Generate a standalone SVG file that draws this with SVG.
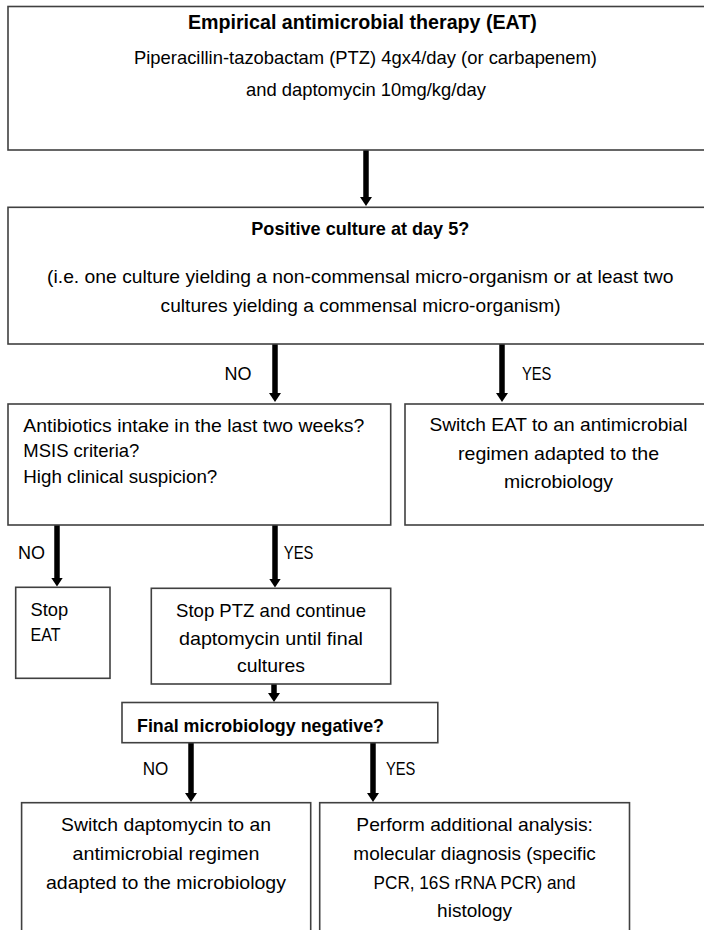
<svg xmlns="http://www.w3.org/2000/svg" width="704" height="930" viewBox="0 0 704 930">
<style>
.box{fill:#fff;stroke:#404040;stroke-width:1.6}
text{font-family:"Liberation Sans",Arial,sans-serif;font-size:18.5px;fill:#000}
.b{font-weight:bold}
.m{text-anchor:middle}
.arr{stroke:#000;stroke-width:5.5;fill:none;marker-end:url(#ah)}
</style>
<defs>
<marker id="ah" markerUnits="userSpaceOnUse" markerWidth="10" markerHeight="12" refX="2" refY="6" orient="auto" viewBox="0 0 10 12">
<path d="M0,0 L9,6 L0,12 Z" fill="#000"/>
</marker>
</defs>
<rect width="704" height="930" fill="#fff"/>
<g id="connectors">
<line class="arr" x1="366" y1="150" x2="366" y2="199"/>
<line class="arr" x1="275" y1="344" x2="275" y2="395"/>
<line class="arr" x1="502" y1="344" x2="502" y2="395"/>
<line class="arr" x1="57" y1="525" x2="57" y2="579.5"/>
<line class="arr" x1="275" y1="525" x2="275" y2="580.5"/>
<line class="arr" x1="274" y1="684" x2="274" y2="695"/>
<line class="arr" x1="191" y1="743" x2="191" y2="795"/>
<line class="arr" x1="373" y1="743" x2="373" y2="795"/>
<text x="224.5" y="380" textLength="27" lengthAdjust="spacingAndGlyphs">NO</text>
<text x="522" y="380" textLength="29.4" lengthAdjust="spacingAndGlyphs">YES</text>
<text x="18" y="559" textLength="27" lengthAdjust="spacingAndGlyphs">NO</text>
<text x="283.8" y="559" textLength="29.6" lengthAdjust="spacingAndGlyphs">YES</text>
<text x="142.8" y="775" textLength="25.6" lengthAdjust="spacingAndGlyphs">NO</text>
<text x="386" y="775" textLength="29.4" lengthAdjust="spacingAndGlyphs">YES</text>
</g>
<g id="eat">
<rect class="box" x="8" y="6.5" width="712" height="143.5"/>
<text class="b m" x="362.4" y="29" style="font-size:19.5px" textLength="349" lengthAdjust="spacingAndGlyphs">Empirical antimicrobial therapy (EAT)</text>
<text class="m" x="365.5" y="63.5" textLength="463" lengthAdjust="spacingAndGlyphs">Piperacillin-tazobactam (PTZ) 4gx4/day (or carbapenem)</text>
<text class="m" x="366" y="96" textLength="240" lengthAdjust="spacingAndGlyphs">and daptomycin 10mg/kg/day</text>
</g>
<g id="positive-culture">
<rect class="box" x="8" y="207.3" width="712" height="136.7"/>
<text class="b m" x="360.3" y="234.5" textLength="218" lengthAdjust="spacingAndGlyphs">Positive culture at day 5?</text>
<text class="m" x="360.3" y="283" textLength="626.5" lengthAdjust="spacingAndGlyphs">(i.e. one culture yielding a non-commensal micro-organism or at least two</text>
<text class="m" x="360.6" y="311.5" textLength="400" lengthAdjust="spacingAndGlyphs">cultures yielding a commensal micro-organism)</text>
</g>
<g id="antibiotics-intake">
<rect class="box" x="8" y="404" width="382.7" height="121"/>
<text x="23.3" y="432" textLength="341" lengthAdjust="spacingAndGlyphs">Antibiotics intake in the last two weeks?</text>
<text x="23.3" y="457" textLength="116" lengthAdjust="spacingAndGlyphs">MSIS criteria?</text>
<text x="23.3" y="483" textLength="194" lengthAdjust="spacingAndGlyphs">High clinical suspicion?</text>
</g>
<g id="switch-eat">
<rect class="box" x="405" y="404" width="315" height="121"/>
<text class="m" x="558.5" y="430.5" textLength="258" lengthAdjust="spacingAndGlyphs">Switch EAT to an antimicrobial</text>
<text class="m" x="558.5" y="460" textLength="201" lengthAdjust="spacingAndGlyphs">regimen adapted to the</text>
<text class="m" x="558.5" y="487.5" textLength="109" lengthAdjust="spacingAndGlyphs">microbiology</text>
</g>
<g id="stop-eat">
<rect class="box" x="15.7" y="587.3" width="94.3" height="91"/>
<text x="30.5" y="615.5" textLength="37.7" lengthAdjust="spacingAndGlyphs">Stop</text>
<text x="30.5" y="641" textLength="30" lengthAdjust="spacingAndGlyphs">EAT</text>
</g>
<g id="stop-ptz">
<rect class="box" x="151.3" y="588.3" width="239.4" height="95.7"/>
<text class="m" x="271" y="616.5" textLength="190" lengthAdjust="spacingAndGlyphs">Stop PTZ and continue</text>
<text class="m" x="271" y="645" textLength="184" lengthAdjust="spacingAndGlyphs">daptomycin until final</text>
<text class="m" x="271" y="672" textLength="68" lengthAdjust="spacingAndGlyphs">cultures</text>
</g>
<g id="final-microbiology">
<rect class="box" x="122" y="702.5" width="315.8" height="40.2"/>
<text class="b" x="137" y="732" textLength="247" lengthAdjust="spacingAndGlyphs">Final microbiology negative?</text>
</g>
<g id="switch-daptomycin">
<rect class="box" x="21.6" y="802.7" width="289.1" height="140"/>
<text class="m" x="166" y="830.5" textLength="210" lengthAdjust="spacingAndGlyphs">Switch daptomycin to an</text>
<text class="m" x="166" y="859.5" textLength="187" lengthAdjust="spacingAndGlyphs">antimicrobial regimen</text>
<text class="m" x="166" y="888.5" textLength="240" lengthAdjust="spacingAndGlyphs">adapted to the microbiology</text>
</g>
<g id="additional-analysis">
<rect class="box" x="319.7" y="802.7" width="309.8" height="140"/>
<text class="m" x="474.6" y="830.5" textLength="236.6" lengthAdjust="spacingAndGlyphs">Perform additional analysis:</text>
<text class="m" x="474.6" y="859.5" textLength="242.5" lengthAdjust="spacingAndGlyphs">molecular diagnosis (specific</text>
<text class="m" x="474.6" y="888.5" textLength="202" lengthAdjust="spacingAndGlyphs">PCR, 16S rRNA PCR) and</text>
<text class="m" x="474.6" y="916.5" textLength="75" lengthAdjust="spacingAndGlyphs">histology</text>
</g>
</svg>
